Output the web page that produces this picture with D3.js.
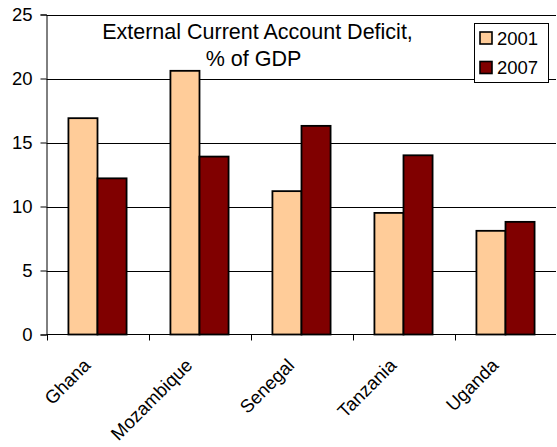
<!DOCTYPE html>
<html>
<head>
<meta charset="utf-8">
<script src="https://cdn.jsdelivr.net/npm/d3@7"></script>
<style>
  body { margin: 0; background: #fff; }
  svg text { font-family: "Liberation Sans", Arial, sans-serif; fill: #000; }
</style>
</head>
<body>
<svg id="chart"></svg>
<script>
const width = 557;
const height = 447;
const margin = {top: 14.5, right: 1, bottom: 112.5, left: 46.5};

const countries = ['Ghana', 'Mozambique', 'Senegal', 'Tanzania', 'Uganda'];
const years = ['2001', '2007'];
const values2001 = [16.9, 20.6, 11.2, 9.5, 8.1];
const values2007 = [12.2, 13.9, 16.3, 14.0, 8.8];
const yTicks = [0, 5, 10, 15, 20, 25];
const colors = ['#ffcc99', '#800000'];

const svg = d3.select('#chart')
    .attr('width', width)
    .attr('height', height);

// band covers the bar pair, xCat step is the category width
const x = d3.scaleBand()
    .domain(countries)
    .range([margin.left, width - margin.right + 0.5])
    .paddingInner(0.43)
    .paddingOuter(0.215);
const xCat = d3.scaleBand().domain(countries).range([margin.left, width - margin.right + 0.5]);
const xSub = d3.scaleBand().domain(years).range([0, x.bandwidth()]);
const y = d3.scaleLinear().domain([0, 25]).range([height - margin.bottom, margin.top]);

// gridlines
svg.append('g')
    .selectAll('line')
    .data(yTicks.filter(d => d > 0))
    .join('line')
    .attr('x1', margin.left)
    .attr('x2', width - margin.right)
    .attr('y1', d => Math.round(y(d)) + 0.5)
    .attr('y2', d => Math.round(y(d)) + 0.5)
    .attr('stroke', '#000')
    .attr('stroke-width', 1);

// bars
const rows = countries.map((c, i) => ({country: c, vals: [values2001[i], values2007[i]]}));
const groups = svg.append('g')
    .selectAll('g')
    .data(rows)
    .join('g')
    .attr('transform', d => `translate(${x(d.country)},0)`);

groups.selectAll('rect')
    .data(d => d.vals.map((v, j) => ({year: years[j], value: v, color: colors[j]})))
    .join('rect')
    .attr('x', d => xSub(d.year))
    .attr('y', d => y(d.value))
    .attr('width', xSub.bandwidth())
    .attr('height', d => y(0) - y(d.value))
    .attr('fill', d => d.color)
    .attr('stroke', '#000')
    .attr('stroke-width', 1.8);

// y axis
const yAxis = svg.append('g')
    .attr('transform', `translate(${margin.left},0)`)
    .call(d3.axisLeft(y).tickValues(yTicks).tickSize(6).tickPadding(8).tickFormat(d3.format('d')));
yAxis.select('.domain').attr('stroke', '#000');
yAxis.selectAll('text').style('font-size', '18.5px');

// x axis
const xAxis = svg.append('g')
    .attr('transform', `translate(0,${y(0)})`);
xAxis.append('line')
    .attr('x1', margin.left)
    .attr('x2', width - margin.right)
    .attr('stroke', '#000');
xAxis.selectAll('.tick')
    .data(countries.map(c => xCat(c)).concat([xCat(countries[4]) + xCat.step()]))
    .join('line')
    .attr('x1', d => Math.round(d) + 0.5)
    .attr('x2', d => Math.round(d) + 0.5)
    .attr('y1', 0)
    .attr('y2', 6)
    .attr('stroke', '#000');

xAxis.selectAll('text')
    .data(countries)
    .join('text')
    .attr('text-anchor', 'end')
    .attr('transform', d => `translate(${xCat(d) + xCat.bandwidth() / 2 - 6},${32}) rotate(-45)`)
    .style('font-size', '18.5px')
    .text(d => d);

// title
svg.append('text')
    .attr('x', 257.5)
    .attr('y', 38.5)
    .attr('text-anchor', 'middle')
    .style('font-size', '21.5px')
    .text('External Current Account Deficit,');
svg.append('text')
    .attr('x', 253.5)
    .attr('y', 65.5)
    .attr('text-anchor', 'middle')
    .style('font-size', '21.5px')
    .text('% of GDP');

// legend
const legend = svg.append('g').attr('transform', 'translate(474,23)');
legend.append('rect')
    .attr('x', 0.5).attr('y', 0.5)
    .attr('width', 74).attr('height', 59)
    .attr('fill', '#fff')
    .attr('stroke', '#000');
const items = legend.selectAll('g.item')
    .data(years)
    .join('g')
    .attr('class', 'item')
    .attr('transform', (d, i) => `translate(6,${9 + i * 29.5})`);
items.append('rect')
    .attr('width', 12).attr('height', 12)
    .attr('fill', (d, i) => colors[i])
    .attr('stroke', '#000')
    .attr('stroke-width', 1.6);
items.append('text')
    .attr('x', 17)
    .attr('y', 12.5)
    .style('font-size', '18.5px')
    .text(d => d);
</script>
</body>
</html>
